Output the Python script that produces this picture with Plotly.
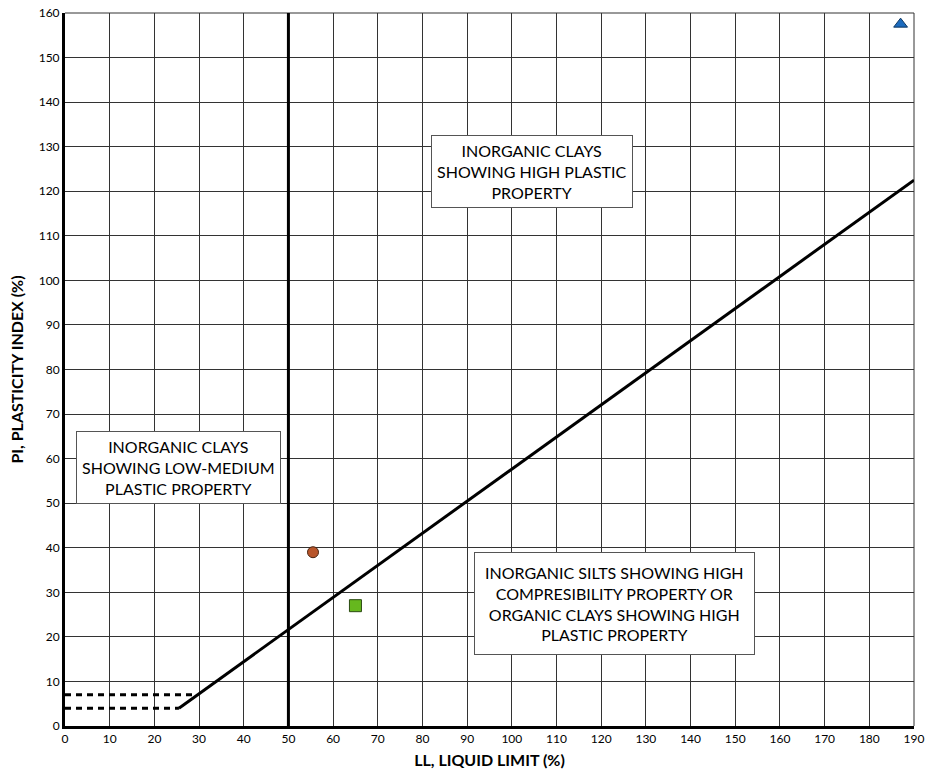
import plotly.graph_objects as go

# A-line endpoints (LL, PI)
aline_ll = [25.5, 190]
aline_pi = [4, 122.5]
# dashed boundary lines
dash_low_ll = [0, 25.5]
dash_low_pi = [4, 4]
dash_high_ll = [0, 29.5]
dash_high_pi = [7, 7]
# LL = 50 vertical
vline_ll = [50, 50]
vline_pi = [0, 160]

# Sample points
circle_ll, circle_pi = [55.5], [39]
square_ll, square_pi = [65], [27]
tri_ll, tri_pi = [187], [157.5]

labels = [
    ("INORGANIC CLAYS<br>SHOWING HIGH PLASTIC<br>PROPERTY", 104.5, 124.5),
    ("INORGANIC CLAYS<br>SHOWING LOW-MEDIUM<br>PLASTIC PROPERTY", 25.3, 58),
    ("INORGANIC SILTS SHOWING HIGH<br>COMPRESIBILITY PROPERTY OR<br>ORGANIC CLAYS SHOWING HIGH<br>PLASTIC PROPERTY", 123, 27.5),
]

FONT = "Lato, 'Open Sans', sans-serif"

fig = go.Figure()
fig.add_trace(go.Scatter(x=vline_ll, y=vline_pi, mode="lines",
                         line=dict(color="black", width=3), hoverinfo="skip"))
fig.add_trace(go.Scatter(x=aline_ll, y=aline_pi, mode="lines",
                         line=dict(color="black", width=3), hoverinfo="skip"))
fig.add_trace(go.Scatter(x=dash_low_ll, y=dash_low_pi, mode="lines",
                         line=dict(color="black", width=3, dash="6px,5px"), hoverinfo="skip"))
fig.add_trace(go.Scatter(x=dash_high_ll, y=dash_high_pi, mode="lines",
                         line=dict(color="black", width=3, dash="6px,5px"), hoverinfo="skip"))
fig.add_trace(go.Scatter(x=circle_ll, y=circle_pi, mode="markers",
                         marker=dict(symbol="circle", size=11, color="#B8552A",
                                     line=dict(color="#4a2410", width=1))))
fig.add_trace(go.Scatter(x=square_ll, y=square_pi, mode="markers",
                         marker=dict(symbol="square", size=12, color="#66B81E",
                                     line=dict(color="#2a4a10", width=1))))
fig.add_trace(go.Scatter(x=tri_ll, y=tri_pi, mode="markers",
                         marker=dict(symbol="triangle-up", size=12, color="#1C6BBE",
                                     line=dict(color="#0b3560", width=1))))

for i, (txt, x, y) in enumerate(labels):
    fig.add_annotation(x=x, y=y, text=txt, showarrow=False,
                       font=dict(family=FONT, size=16, color="black"),
                       bgcolor="white", bordercolor="#555", borderwidth=1,
                       borderpad=(10 if i == 2 else 5), align="center")

# thin top and right border (grid lines at range ends)
fig.add_shape(type="line", xref="paper", yref="paper", x0=0, x1=1, y0=1, y1=1,
              line=dict(color="#333", width=1), layer="below")
fig.add_shape(type="line", xref="paper", yref="paper", x0=1, x1=1, y0=0, y1=1,
              line=dict(color="#333", width=1), layer="below")

fig.update_layout(
    width=927, height=778,
    margin=dict(l=65, r=13, t=13, b=52),
    paper_bgcolor="white", plot_bgcolor="white",
    showlegend=False,
    font=dict(family=FONT, color="black"),
)
fig.update_xaxes(range=[0, 190], dtick=10, showgrid=True, gridcolor="#333", gridwidth=1,
                 showline=True, linecolor="black", linewidth=3, zeroline=False,
                 tickfont=dict(size=12, family=FONT, color="black"), ticks="",
                 automargin=False, ticklabeloverflow="allow",
                 title=dict(text="<b>LL, LIQUID LIMIT (%)</b>", font=dict(size=16), standoff=10))
fig.update_yaxes(range=[0, 160], dtick=10, showgrid=True, gridcolor="#333", gridwidth=1,
                 showline=True, linecolor="black", linewidth=3, zeroline=False,
                 tickfont=dict(size=12, family=FONT, color="black"), ticks="",
                 automargin=False, ticklabeloverflow="allow",
                 title=dict(text="<b>PI, PLASTICITY INDEX (%)</b>", font=dict(size=16), standoff=12))

fig.write_html("out.html", config={"displayModeBar": False},
               post_script="document.body.style.margin='0px';document.body.style.overflow='hidden';")
